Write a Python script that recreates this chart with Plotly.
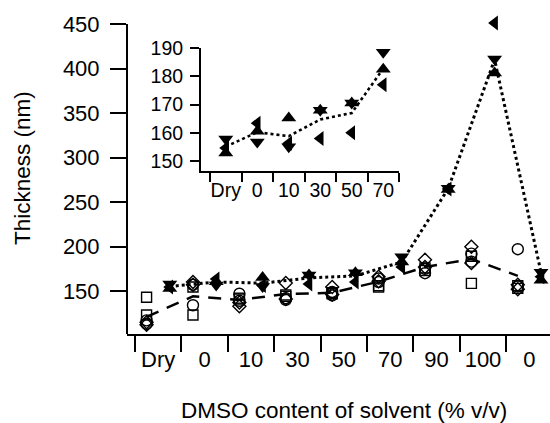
import plotly.graph_objects as go

# ---------------- data ----------------
categories = ["Dry", "0", "10", "30", "50", "70", "90", "100", "0"]
inset_categories = ["Dry", "0", "10", "30", "50", "70"]

# filled-marker samples (dotted mean line)
filled_up = [152.8, 160.5, 165.2, 168.0, 170.5, 182.5, 264.0, 395.0, 162.0]
filled_down = [157.8, 156.7, 155.0, 168.0, 170.5, 188.5, 265.5, 410.7, 171.0]
filled_left = [154.6, 163.4, 156.3, 158.0, 160.0, 177.0, 264.5, 451.0, 166.0]
filled_mean = [155.1, 160.2, 158.8, 164.7, 167.0, 182.7, 265.0, 410.0, 171.0]

# open-marker samples (dashed mean line)
open_circle_a = [117.0, 134.0, 147.0, 142.0, 149.0, 164.0, 170.0, 192.0, 197.0]
open_circle_b = [113.0, 157.0, 139.0, 140.0, 145.0, 160.0, 175.0, 183.0, 155.0]
open_square_a = [143.0, 123.0, 141.0, 145.5, 147.0, 154.5, 173.0, 158.6, 156.0]
open_square_b = [123.0, 154.5, 142.0, 144.0, 148.0, 156.0, 176.0, 189.0, 153.0]
open_diamond_a = [112.0, 160.0, 133.0, 159.0, 154.5, 166.0, 185.0, 199.8, 152.0]
open_diamond_b = [115.0, 157.0, 137.0, 141.0, 146.0, 161.0, 177.0, 181.5, 157.0]
open_mean = [121.0, 144.0, 140.0, 146.6, 148.0, 160.5, 177.0, 186.0, 167.0]

main_yticks = [150, 200, 250, 300, 350, 400, 450]
inset_yticks = [150, 160, 170, 180, 190]

# ---------------- figure ----------------
FONT = "Liberation Sans, Arial, Helvetica, sans-serif"
n = len(categories)
idx = list(range(n))
x_open = [i - 0.25 for i in idx]
x_fill = [i + 0.25 for i in idx]
ni = len(inset_categories)
idx_in = list(range(ni))

# geometry (pixels)
W, H = 550, 423
L, R, T, B = 127, 0, 15, 89
pw, ph = W - L - R, H - T - B
y_lo, y_axis_top = 101.7, 450.0
scale = (334 - 24) / (y_axis_top - y_lo)          # px per unit
y_hi = y_axis_top + (24 - T) / scale               # extra headroom for top marker

def px_to_paper_x(px):
    return (px - L) / pw

def px_to_paper_y(py):
    return (H - B - py) / ph

fig = go.Figure()

# dashed line + open markers
fig.add_trace(go.Scatter(x=x_open, y=open_mean, mode="lines",
                         line=dict(color="black", width=2.5, dash="13px,9px"),
                         showlegend=False, hoverinfo="skip"))
open_sets = [
    (open_circle_a, "circle-open", 11),
    (open_circle_b, "circle-open", 11),
    (open_square_a, "square-open", 10),
    (open_square_b, "square-open", 10),
    (open_diamond_a, "diamond-open", 10),
    (open_diamond_b, "diamond-open", 10),
]
for vals, sym, sz in open_sets:
    fig.add_trace(go.Scatter(x=x_open, y=vals, mode="markers",
                             marker=dict(symbol=sym, size=sz, color="black",
                                         line=dict(color="black", width=1.4)),
                             showlegend=False))

# dotted line + filled markers
fig.add_trace(go.Scatter(x=x_fill, y=filled_mean, mode="lines",
                         line=dict(color="black", width=3, dash="dot"),
                         showlegend=False, hoverinfo="skip"))
for vals, sym in [(filled_up, "triangle-up"), (filled_down, "triangle-down"),
                  (filled_left, "triangle-left")]:
    fig.add_trace(go.Scatter(x=x_fill, y=vals, mode="markers",
                             marker=dict(symbol=sym, size=13, color="black",
                                         line=dict(width=0)),
                             showlegend=False))

# inset
fig.add_trace(go.Scatter(x=idx_in, y=filled_mean[:ni], mode="lines",
                         line=dict(color="black", width=2.6, dash="dot"),
                         xaxis="x2", yaxis="y2", showlegend=False))
for vals, sym in [(filled_up, "triangle-up"), (filled_down, "triangle-down"),
                  (filled_left, "triangle-left")]:
    fig.add_trace(go.Scatter(x=idx_in, y=vals[:ni], mode="markers", cliponaxis=False,
                             marker=dict(symbol=sym, size=13, color="black",
                                         line=dict(width=0)),
                             xaxis="x2", yaxis="y2", showlegend=False))

axis_common = dict(showgrid=False, zeroline=False, linecolor="black",
                   linewidth=2, tickcolor="black", tickwidth=2,
                   tickfont=dict(family=FONT, size=22, color="black"))

fig.update_layout(
    width=W, height=H,
    margin=dict(l=L, r=R, t=T, b=B, pad=0),
    paper_bgcolor="white", plot_bgcolor="rgba(0,0,0,0)",
    font=dict(family=FONT, color="black"),
    xaxis=dict(**axis_common, showline=True, domain=[0, 1], range=[-0.672, 8.444],
               tickmode="array", tickvals=idx, ticktext=categories, ticks="",
               minor=dict(tickmode="array", tickvals=[i - 0.5 for i in range(n + 1)],
                          ticks="outside", ticklen=16, tickwidth=2, tickcolor="black"),
               ticklabelstandoff=5),
    yaxis=dict(**axis_common, showline=False, domain=[0, 1], range=[y_lo, y_hi],
               tickmode="array", tickvals=main_yticks, ticks="outside", ticklen=16,
               ticklabelstandoff=6),
    xaxis2=dict(showgrid=False, zeroline=False, showline=True, linecolor="black",
                linewidth=2, tickcolor="black", tickwidth=2,
                tickfont=dict(family=FONT, size=19.5, color="black"),
                domain=[px_to_paper_x(201), px_to_paper_x(399)], range=[-0.786, 5.5],
                anchor="y2", tickmode="array", tickvals=idx_in, ticktext=inset_categories,
                ticks="",
                minor=dict(tickmode="array", tickvals=[i - 0.5 for i in range(ni + 1)],
                           ticks="outside", ticklen=9, tickwidth=2, tickcolor="black"),
                ticklabelstandoff=1),
    yaxis2=dict(showgrid=False, zeroline=False, showline=True, linecolor="black",
                linewidth=2, tickcolor="black", tickwidth=2,
                tickfont=dict(family=FONT, size=19.5, color="black"),
                domain=[px_to_paper_y(171), px_to_paper_y(48)], range=[146.46, 190],
                anchor="x2", tickmode="array", tickvals=inset_yticks, ticks="outside",
                ticklen=9, ticklabelstandoff=3),
    shapes=[
        dict(type="line", xref="paper", yref="y", x0=0, x1=0, y0=y_lo, y1=y_axis_top,
             line=dict(color="black", width=2)),
    ],
    annotations=[
        dict(text="Thickness (nm)", textangle=-90, xref="paper", yref="paper",
             x=px_to_paper_x(23), y=px_to_paper_y(168), xanchor="center", yanchor="middle",
             showarrow=False, font=dict(family=FONT, size=22.5, color="black")),
        dict(text="DMSO content of solvent (% v/v)", xref="paper", yref="paper",
             x=px_to_paper_x(344), y=px_to_paper_y(410), xanchor="center", yanchor="middle",
             showarrow=False, font=dict(family=FONT, size=22.5, color="black")),
    ],
)

fig.write_html("out.html")
